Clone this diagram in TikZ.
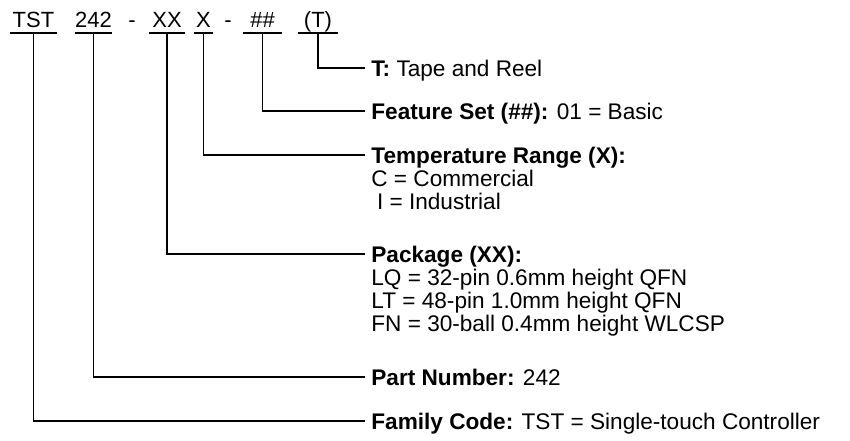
\documentclass[tikz,border=0pt]{standalone}
\usepackage{fontspec}
\setmainfont{Liberation Sans}
\usetikzlibrary{positioning}
\tikzset{
  code/.style={font=\fontsize{11}{13}\selectfont, inner sep=0pt, anchor=base},
  head/.style={font=\fontsize{11.3}{13}\selectfont, inner xsep=3pt, inner ysep=0pt, text height=8.1pt, text depth=0pt, anchor=west},
  entry/.style={font=\fontsize{11.3}{13}\selectfont, inner sep=0pt, text height=8.1pt, text depth=0pt, anchor=west},
  lead/.style={line width=0.7pt, black}
}

\begin{document}
\begin{tikzpicture}[x=0.5pt,y=-0.5pt]
  \useasboundingbox (0,0) rectangle (850,440);
  % ordering code
  \node[code, minimum width=23.5pt] (fam) at (33.5,27) {TST};
  \node[code, minimum width=18.5pt] (part) at (93.5,27) {242};
  \node[code] (d1) at (132,27) {-};
  \node[code, minimum width=18pt] (pkg) at (167,27) {XX};
  \node[code, minimum width=9.5pt] (temp) at (203.5,27) {X};
  \node[code] (d2) at (228,27) {-};
  \node[code, minimum width=19.5pt] (feat) at (262.5,27) {\#\#};
  \node[code, minimum width=20pt] (tape) at (318,27) {(T)};
  \foreach \n in {fam,part,pkg,temp,feat,tape}
    \draw[lead] ([yshift=-3pt]\n.base west) -- ([yshift=-3pt]\n.base east);
  % descriptions
  \node[head] (tapeTxt) at (365,68) {\textbf{T:} Tape and Reel};
  \node[head] (featTxt) at (365,111) {\textbf{Feature Set (\#\#):} 01 = Basic};
  \node[head] (tempTxt) at (365,155) {\textbf{Temperature Range (X):}};
  \node[entry] (tempC) at (371,178) {C = Commercial};
  \node[entry] (tempI) at (371,201) {\hspace{0.25em}I = Industrial};
  \node[head] (pkgTxt) at (365,254) {\textbf{Package (XX):}};
  \node[entry] (pkgLQ) at (371,277) {LQ = 32-pin 0.6mm height QFN};
  \node[entry] (pkgLT) at (371,300) {LT = 48-pin 1.0mm height QFN};
  \node[entry] (pkgFN) at (371,323) {FN = 30-ball 0.4mm height WLCSP};
  \node[head] (partTxt) at (365,377) {\textbf{Part Number:} 242};
  \node[head] (famTxt) at (365,421) {\textbf{Family Code:} TST = Single-touch Controller};
  % leaders
  \draw[lead] ([yshift=-3pt]tape.base) |- (tapeTxt.west);
  \draw[lead] ([yshift=-3pt]feat.base) |- (featTxt.west);
  \draw[lead] ([yshift=-3pt]temp.base) |- (tempTxt.west);
  \draw[lead] ([yshift=-3pt]pkg.base) |- (pkgTxt.west);
  \draw[lead] ([yshift=-3pt]part.base) |- (partTxt.west);
  \draw[lead] ([yshift=-3pt]fam.base) |- (famTxt.west);
\end{tikzpicture}
\end{document}
